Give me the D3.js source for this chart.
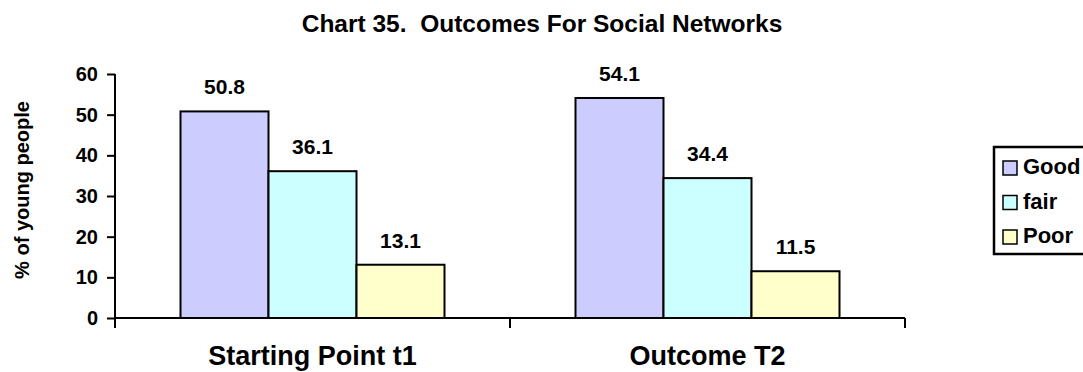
<!DOCTYPE html>
<html>
<head>
<meta charset="utf-8">
<script src="https://d3js.org/d3.v7.min.js"></script>
<style>
  body { margin: 0; background: #fff; }
  text { font-family: "Liberation Sans", Arial, sans-serif; font-weight: bold; fill: #000; white-space: pre; }
</style>
</head>
<body>
<svg width="1083" height="372"></svg>
<script>
var categories = ["Starting Point t1", "Outcome T2"];
var seriesNames = ["Good", "fair", "Poor"];
var good = [50.8, 54.1];
var fair = [36.1, 34.4];
var poor = [13.1, 11.5];
var yTicks = [0, 10, 20, 30, 40, 50, 60];
var colors = ["#CCCCFF", "#CCFFFF", "#FFFFCC"];

var seriesValues = [good, fair, poor];
var data = categories.map(function(c, i) {
  return { cat: c, vals: seriesNames.map(function(s, j) { return { name: s, value: seriesValues[j][i] }; }) };
});

var svg = d3.select("svg");
var plotLeft = 115, plotRight = 905, plotTop = 74, plotBottom = 318;

var x0 = d3.scaleBand().domain(categories).range([plotLeft, plotRight]).padding(0);
var groupW = 264;
var x1 = d3.scaleBand().domain(seriesNames).range([0, groupW]).padding(0);
var y = d3.scaleLinear().domain([0, 60]).range([plotBottom, plotTop]);
var color = d3.scaleOrdinal().domain(seriesNames).range(colors);

// title
svg.append("text")
   .attr("x", 542).attr("y", 32)
   .attr("text-anchor", "middle")
   .style("font-size", "24.5px")
   .text("Chart 35.  Outcomes For Social Networks");

// bars
var g = svg.selectAll(".grp").data(data).enter().append("g")
   .attr("transform", function(d) { return "translate(" + (x0(d.cat) + (x0.bandwidth() - groupW) / 2) + ",0)"; });

g.selectAll("rect").data(function(d) { return d.vals; }).enter().append("rect")
   .attr("x", function(d) { return x1(d.name); })
   .attr("y", function(d) { return y(d.value); })
   .attr("width", x1.bandwidth())
   .attr("height", function(d) { return y(0) - y(d.value); })
   .attr("fill", function(d) { return color(d.name); })
   .attr("stroke", "#000")
   .attr("stroke-width", 2);

g.selectAll(".lbl").data(function(d) { return d.vals; }).enter().append("text")
   .attr("x", function(d) { return x1(d.name) + x1.bandwidth() / 2; })
   .attr("y", function(d) { return y(d.value) - 17; })
   .attr("text-anchor", "middle")
   .style("font-size", "21px")
   .text(function(d) { return d.value.toFixed(1); });

// y axis
var yAxis = svg.append("g")
   .attr("transform", "translate(" + plotLeft + ",0)")
   .call(d3.axisLeft(y).tickValues(yTicks).tickSize(8).tickPadding(9));
yAxis.selectAll("text").style("font-size", "20px");
yAxis.selectAll("line, path").attr("stroke", "#000").attr("stroke-width", 2);
yAxis.select(".domain").attr("d", "M0," + plotTop + "V" + plotBottom);

// x axis
var xAxis = svg.append("g").attr("transform", "translate(0," + plotBottom + ")");
xAxis.append("line").attr("x1", plotLeft).attr("x2", plotRight).attr("stroke", "#000").attr("stroke-width", 2);
var xTicks = categories.map(function(c) { return x0(c); }).concat([plotRight]);
xAxis.selectAll(".tk").data(xTicks).enter().append("line")
   .attr("x1", function(d) { return d; }).attr("x2", function(d) { return d; })
   .attr("y1", 0).attr("y2", 10)
   .attr("stroke", "#000").attr("stroke-width", 2);
xAxis.selectAll(".cl").data(categories).enter().append("text")
   .attr("x", function(d) { return x0(d) + x0.bandwidth() / 2; })
   .attr("y", 47)
   .attr("text-anchor", "middle")
   .style("font-size", "27px")
   .text(function(d) { return d; });

// y label
svg.append("text")
   .attr("transform", "translate(29,190) rotate(-90)")
   .attr("text-anchor", "middle")
   .style("font-size", "20px")
   .text("% of young people");

// legend
var lg = svg.append("g").attr("transform", "translate(994,147)");
lg.append("rect").attr("width", 110).attr("height", 107)
  .attr("fill", "#fff").attr("stroke", "#000").attr("stroke-width", 2.5);
var li = lg.selectAll(".li").data(seriesNames).enter().append("g")
  .attr("transform", function(d, i) { return "translate(0," + (27 + i * 34.5) + ")"; });
li.append("rect").attr("x", 9).attr("y", -13).attr("width", 14).attr("height", 14)
  .attr("fill", function(d) { return color(d); }).attr("stroke", "#000").attr("stroke-width", 1.5);
li.append("text").attr("x", 29).attr("y", 0).style("font-size", "22px").text(function(d) { return d; });
</script>
</body>
</html>
